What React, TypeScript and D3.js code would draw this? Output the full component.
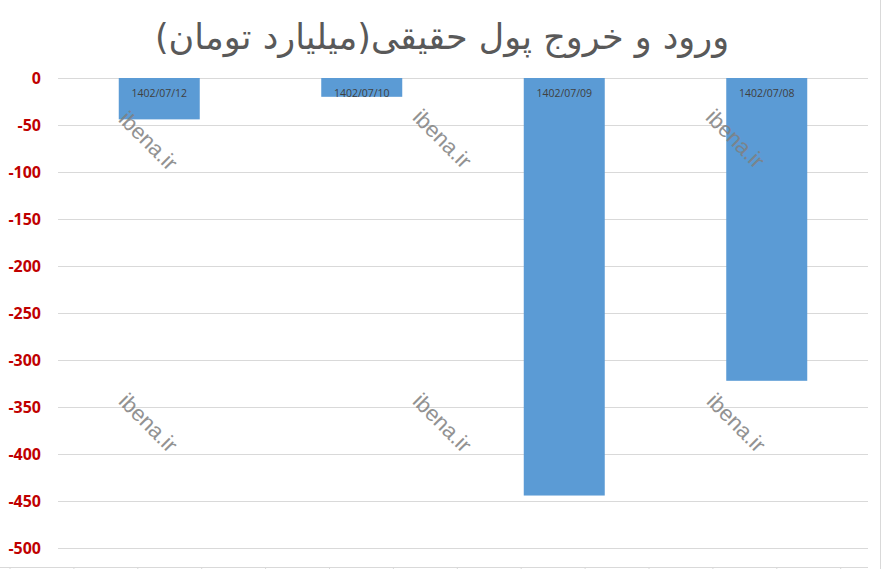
import React from "react";
import * as d3 from "d3";

const title = "ورود و خروج پول حقیقی(میلیارد تومان)";
const dates = ["1402/07/12", "1402/07/10", "1402/07/09", "1402/07/08"];
const values = [-44, -20, -444, -322];
const yTicks = [0, -50, -100, -150, -200, -250, -300, -350, -400, -450, -500];
const watermark = "ibena.ir";

const width = 884;
const height = 569;
const margin = { top: 78, right: 16, bottom: 2, left: 58 };

const App: React.FC = () => {
  const plotW = width - margin.left - margin.right;

  const yScale = d3.scaleLinear().domain([-520, 0]).range([567, margin.top]);
  const xScale = d3
    .scaleBand<string>()
    .domain(dates)
    .range([margin.left, margin.left + plotW])
    .paddingInner(0.6)
    .paddingOuter(0.3);

  // bottom category-axis ticks (chart is cropped at the bottom)
  const bottomTicks = d3.range(14).map((i) => 10 + i * 63.9);

  const marks = [
    [147, 142],
    [441, 140],
    [734, 140],
    [147, 424],
    [441, 424],
    [735, 424],
  ];

  return (
    <svg
      width={width}
      height={height}
      style={{ position: "absolute", left: 0, top: 0, background: "white" }}
    >
      <rect x={0} y={0} width={width} height={height} fill="white" />
      <line x1={880.5} x2={880.5} y1={0} y2={height} stroke="#d9d9d9" />

      <text
        x={442}
        y={49}
        textAnchor="middle"
        fontFamily="'DejaVu Sans', sans-serif"
        fontSize={35}
        fill="#595959"
        direction="rtl"
      >
        {title}
      </text>

      {yTicks.map((t) => (
        <g key={t}>
          <line
            x1={margin.left}
            x2={margin.left + plotW}
            y1={Math.round(yScale(t)) + 0.5}
            y2={Math.round(yScale(t)) + 0.5}
            stroke="#d9d9d9"
          />
          <text
            x={41}
            y={yScale(t) + 6}
            textAnchor="end"
            fontFamily="'Open Sans', sans-serif"
            fontWeight="bold"
            fontSize={16}
            fill="#c00000"
          >
            {t}
          </text>
        </g>
      ))}

      <line x1={0} x2={margin.left + plotW} y1={567.5} y2={567.5} stroke="#d9d9d9" />
      {bottomTicks.map((x, i) => (
        <line key={i} x1={x} x2={x} y1={567} y2={569} stroke="#d9d9d9" />
      ))}

      {dates.map((d, i) => (
        <g key={d}>
          <rect
            x={xScale(d)!}
            y={yScale(0)}
            width={xScale.bandwidth()}
            height={yScale(values[i]) - yScale(0)}
            fill="#5b9bd5"
          />
          <text
            x={xScale(d)! + xScale.bandwidth() / 2}
            y={yScale(0) + 19}
            textAnchor="middle"
            fontFamily="'Open Sans', sans-serif"
            fontSize={10.5}
            fill="#404040"
          >
            {d}
          </text>
        </g>
      ))}

      {marks.map(([cx, cy], i) => (
        <text
          key={i}
          x={cx}
          y={cy}
          transform={`rotate(45 ${cx} ${cy})`}
          textAnchor="middle"
          dominantBaseline="middle"
          fontFamily="'Liberation Sans', Arial, sans-serif"
          fontSize={22}
          fill="#808080"
          opacity={0.85}
        >
          {watermark}
        </text>
      ))}
    </svg>
  );
};

export default App;
